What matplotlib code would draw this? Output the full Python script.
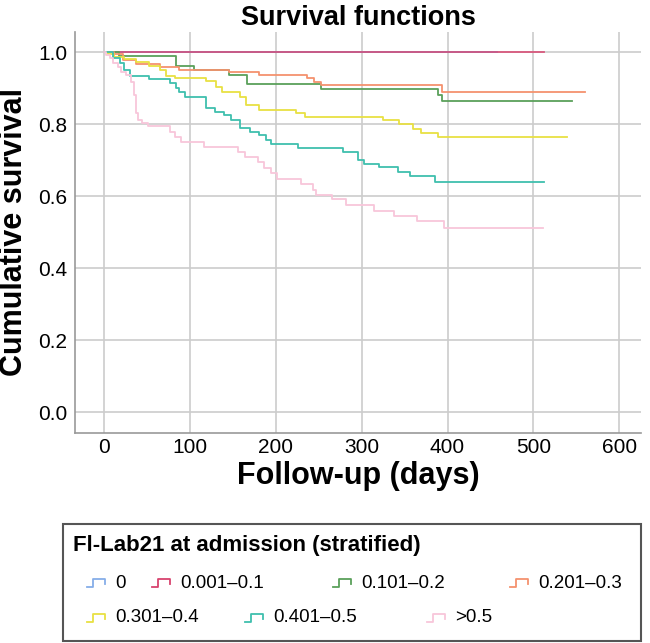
import matplotlib
matplotlib.use("Agg")
import matplotlib.pyplot as plt
from matplotlib.lines import Line2D
from matplotlib.patches import Rectangle

plt.rcParams['font.family'] = ['Liberation Sans', 'DejaVu Sans']

# group labels and colours
groups = ["0", "0.001\u20130.1", "0.101\u20130.2", "0.201\u20130.3",
          "0.301\u20130.4", "0.401\u20130.5", ">0.5"]
colors = ["#86aee8", "#d8436e", "#5aa05a", "#f4926e", "#e8e043", "#3fbfae", "#f8c6da"]

# Kaplan-Meier step data (days, cumulative survival)
t_0 = [0, 458]
s_0 = [1.0, 1.0]

t_01 = [0, 512]
s_01 = [1.0, 1.0]

t_02 = [0, 18, 84, 105, 146, 167, 253, 389, 394, 545]
s_02 = [1.0, 0.99, 0.963, 0.95, 0.938, 0.911, 0.899, 0.882, 0.865, 0.865]

t_03 = [0, 12, 22, 38, 65, 88, 146, 181, 237, 245, 253, 393, 560]
s_03 = [1.0, 0.994, 0.979, 0.967, 0.96, 0.952, 0.946, 0.937, 0.928, 0.918, 0.909, 0.889, 0.889]

t_04 = [0, 5, 12, 24, 38, 53, 65, 72, 83, 119, 131, 137, 158, 166, 181, 224, 234,
        325, 344, 360, 369, 389, 539]
s_04 = [1.0, 0.994, 0.988, 0.981, 0.972, 0.963, 0.951, 0.935, 0.928, 0.92, 0.904, 0.89,
        0.877, 0.854, 0.84, 0.83, 0.821, 0.812, 0.8, 0.788, 0.776, 0.766, 0.766]

t_05 = [0, 11, 19, 24, 30, 53, 77, 84, 88, 94, 119, 129, 140, 148, 158, 170, 181, 189,
        195, 226, 278, 296, 303, 320, 342, 356, 385, 512]
s_05 = [1.0, 0.985, 0.969, 0.951, 0.935, 0.926, 0.914, 0.902, 0.889, 0.877, 0.846, 0.835,
        0.826, 0.812, 0.789, 0.779, 0.77, 0.756, 0.745, 0.733, 0.724, 0.701, 0.69, 0.681,
        0.668, 0.656, 0.64, 0.64]

t_06 = [0, 3, 7, 11, 16, 20, 26, 32, 35, 37, 38, 40, 44, 51, 77, 83, 90, 117, 156, 164,
        180, 186, 195, 201, 230, 243, 247, 265, 282, 315, 338, 365, 396, 511]
s_06 = [1.0, 0.992, 0.983, 0.969, 0.96, 0.946, 0.937, 0.918, 0.881, 0.85, 0.83, 0.812,
        0.803, 0.796, 0.779, 0.766, 0.752, 0.738, 0.724, 0.71, 0.696, 0.678, 0.664, 0.647,
        0.634, 0.617, 0.604, 0.592, 0.576, 0.56, 0.545, 0.53, 0.511, 0.511]

times = [t_0, t_01, t_02, t_03, t_04, t_05, t_06]
survs = [s_0, s_01, s_02, s_03, s_04, s_05, s_06]

xticks = [0, 100, 200, 300, 400, 500, 600]
yticks = [0.0, 0.2, 0.4, 0.6, 0.8, 1.0]

fig = plt.figure(figsize=(6.5, 6.43), dpi=100)
ax = fig.add_axes([0.116, 0.327, 0.87, 0.623])

for i, (t, s) in enumerate(zip(times, survs)):
    ax.step(t, s, where="post", color=colors[i], lw=1.3,
            alpha=0.85 if i == 1 else 1.0, zorder=3)

ax.set_xlim(-33, 625)
ax.set_ylim(-0.057, 1.056)
ax.set_xticks(xticks)
ax.set_yticks(yticks)
ax.set_yticklabels([f"{v:.1f}" for v in yticks])
ax.grid(True, color="#cccccc", lw=1.2, zorder=0)
ax.tick_params(length=0, labelsize=15, pad=6)
ax.tick_params(axis="x", pad=4)
for side in ["top", "right"]:
    ax.spines[side].set_visible(False)
for side in ["left", "bottom"]:
    ax.spines[side].set_color("#999999")
    ax.spines[side].set_linewidth(1.2)

ax.set_title("Survival functions", fontsize=19.5, fontweight="bold", pad=5)
ax.set_xlabel("Follow-up (days)", fontsize=22, fontweight="bold", labelpad=3)
ax.set_ylabel("Cumulative survival", fontsize=22, fontweight="bold", labelpad=6)

# legend box drawn in figure pixels
W, H = 650.0, 643.0
box_left, box_right, box_top, box_bottom = 63, 641, 524, 641
fig.patches.append(Rectangle((box_left / W, 1 - box_bottom / H),
                             (box_right - box_left) / W, (box_bottom - box_top) / H,
                             transform=fig.transFigure, fill=False,
                             edgecolor="#555555", lw=1.5))
fig.text(73 / W, 1 - 545 / H, "Fl-Lab21 at admission (stratified)",
         fontsize=16, fontweight="bold", va="center", ha="left")

# (text x, row y) for each entry, in pixels
entry_x = [115, 180, 361, 538, 115, 273, 455]
entry_y = [583, 583, 583, 583, 618, 618, 618]

for i, lab in enumerate(groups):
    tx, ty = entry_x[i], entry_y[i]
    x1 = tx - 10
    x0 = x1 - 18
    hx = [x0, x0 + 6, x0 + 6, x1, x1]
    hy = [ty + 4, ty + 4, ty - 4, ty - 4, ty + 1]
    fig.lines.append(Line2D([v / W for v in hx], [1 - v / H for v in hy],
                            transform=fig.transFigure, color=colors[i], lw=1.3))
    fig.text(tx / W, 1 - ty / H, lab, fontsize=13.5, va="center", ha="left")

fig.savefig("out.png", dpi=100)
